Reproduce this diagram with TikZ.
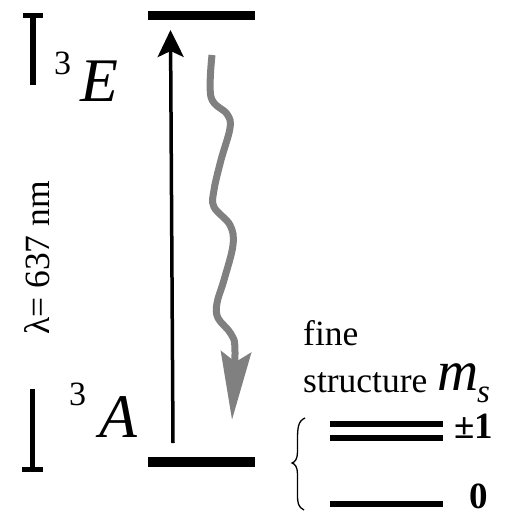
\documentclass[tikz,border=0pt]{standalone}
\usepackage{fontspec}
\setmainfont{Liberation Serif}
\usetikzlibrary{arrows.meta}
\begin{document}
\begin{tikzpicture}[
        x=1pt, y=-1pt,
        nivel/.style={line width=9.5pt},
        subnivel/.style={line width=6pt},
        barra/.style={line width=5.5pt},
        flecha/.style={-{Stealth[length=27pt, width=26pt, inset=6pt]}, line width=3.5pt},
        onda/.style={-{Stealth[length=68pt, width=30pt, inset=10pt]}, line width=7pt, draw=gray},
        texto/.style={inner sep=0pt, anchor=base west, font=\fontsize{35.5}{40}\selectfont},
        indice/.style={inner sep=0pt, anchor=base west, font=\fontsize{34}{34}\selectfont},
        estado/.style={inner sep=0pt, anchor=base west, font=\fontsize{62}{62}\selectfont\itshape},
        numero/.style={inner sep=0pt, anchor=base west, font=\fontsize{37}{37}\selectfont\bfseries}
    ]
        \useasboundingbox (0,0) rectangle (509,516);

        \draw[nivel] (148,15.5) -- (255,15.5);
        \draw[nivel] (148,462) -- (255,462);

        \draw[barra] (33,85) -- (33,13);
        \draw[barra] (23,15.5) -- (43,15.5);
        \draw[barra] (32.5,389) -- (32.5,472);
        \draw[barra] (22,469.5) -- (43,469.5);

        \node[texto, rotate=90, anchor=base] (longitud) at (49,258)
        {λ= 637 nm};

        \node[indice] (tresE) at (54,75) {3};
        \node[estado] (E) at (80,102) {E};
        \node[indice] (tresA) at (69,405) {3};
        \node[estado] (A) at (99,437) {A};

        \coordinate (inicio) at (173,443);
        \coordinate (fin) at (170.5,30);
        \draw[flecha] (inicio) -- (fin);

        \draw[onda] plot[smooth, tension=0.6] coordinates {
            (212,55) (211,97) (227,114) (230,128) (221,160) (214,190)
            (214,207) (230,225) (233,245) (224,280) (217,303) (218,318)
            (231,334) (235,352) (232,420)};

        \node[texto] (fine) at (303,345) {fine};
        \node[texto] (structure) at (303,392) {structure};
        \node[inner sep=0pt, anchor=base west, font=\fontsize{57}{57}\selectfont\itshape] (m) at (437,390) {m};
        \node[inner sep=0pt, anchor=base west, font=\fontsize{33}{33}\selectfont\itshape] (s) at (477,402) {s};

        \draw[subnivel] (330,424) -- (443,424);
        \draw[subnivel] (330,437.5) -- (443,437.5);
        \draw[subnivel] (330,504) -- (443,504);
        \node[numero] (masmenos) at (454,438) {±1};
        \node[numero] (cero) at (469,508) {0};

        \draw[line width=1.3pt] (305,418) .. controls (298,421) and (297.5,428) .. (297.5,440)
            -- (297.5,452) .. controls (297.5,459) and (295,462) .. (292,463)
            .. controls (295,464) and (297.5,467) .. (297.5,474)
            -- (297.5,494) .. controls (297.5,503) and (298,507) .. (304,510);
    \end{tikzpicture}
\end{document}
